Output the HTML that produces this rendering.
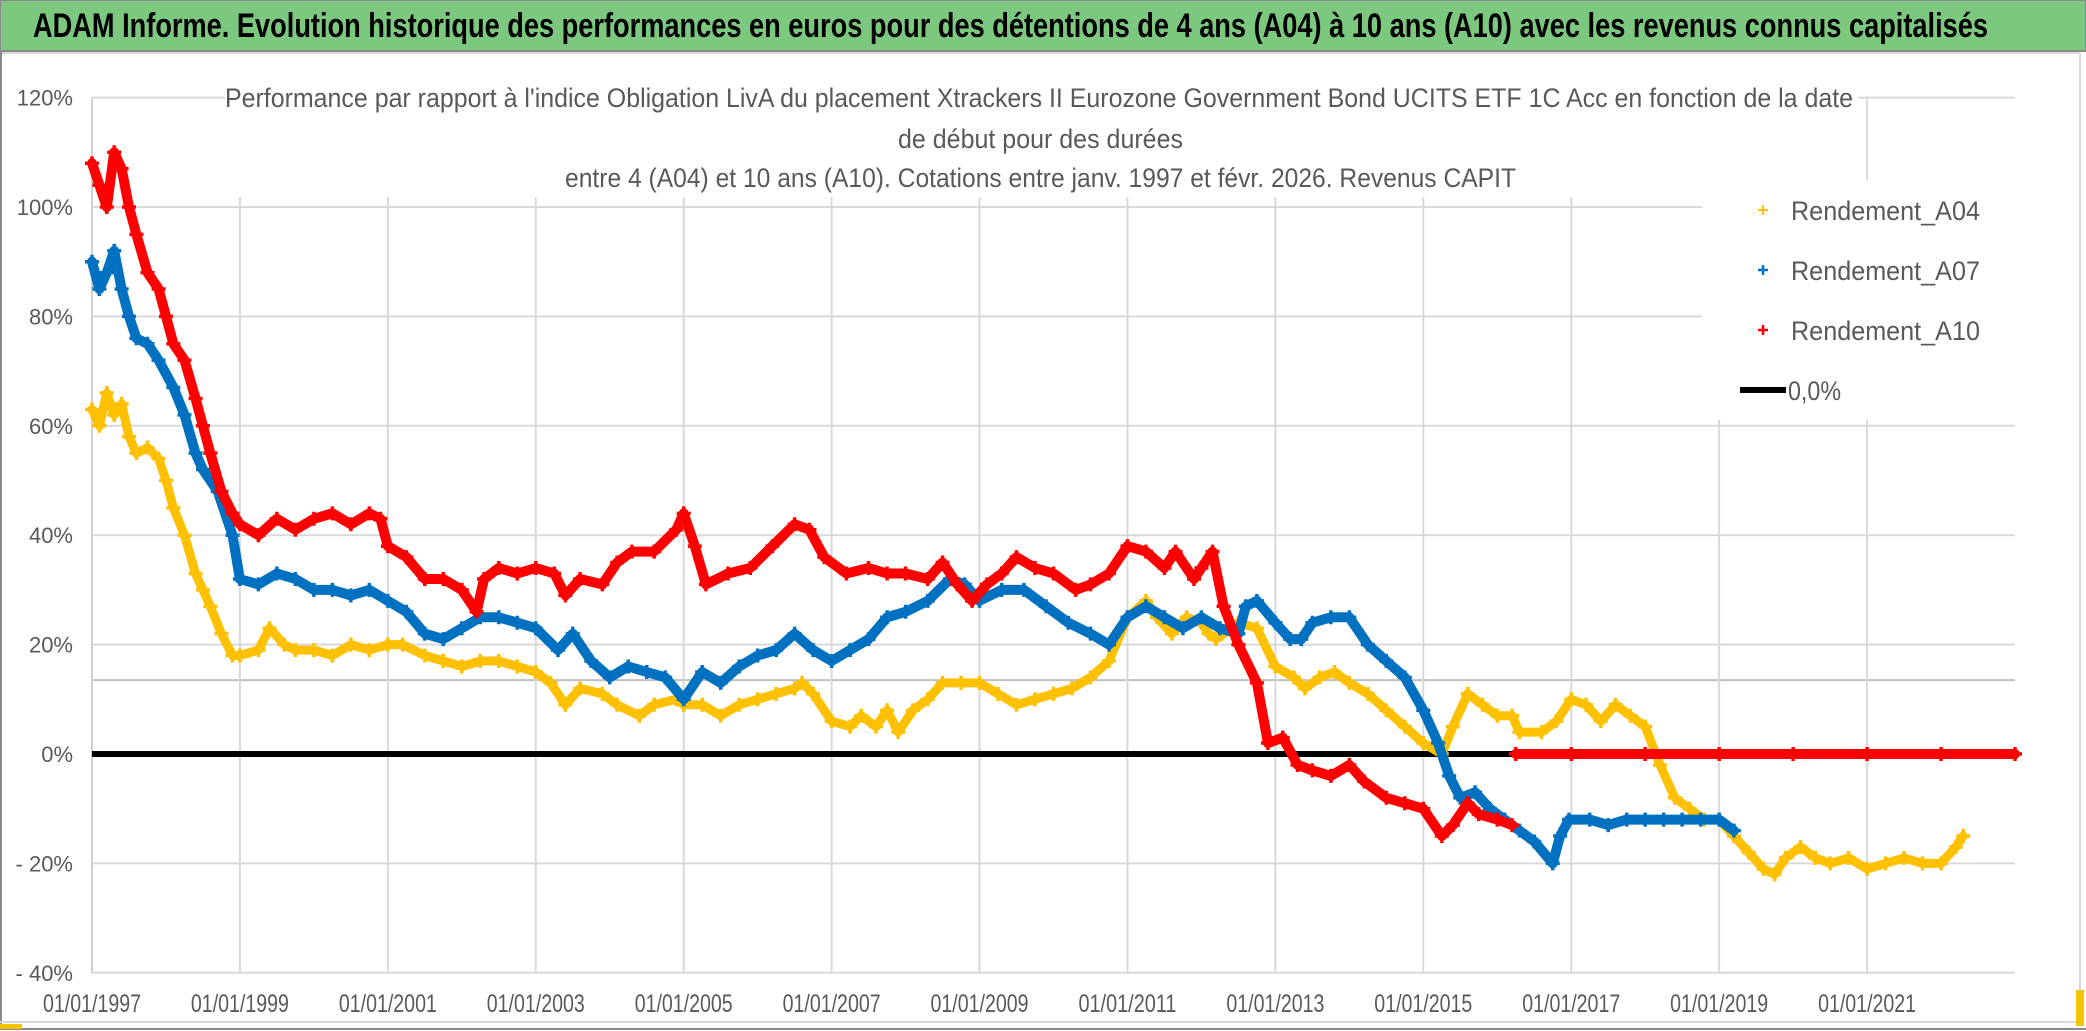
<!DOCTYPE html>
<html><head><meta charset="utf-8"><style>
html,body{margin:0;padding:0;background:#fff;width:2086px;height:1031px;overflow:hidden}
svg{display:block}
text{font-family:"Liberation Sans Narrow","Liberation Sans",sans-serif}
</style></head><body>
<svg id="chart" width="2086" height="1031" viewBox="0 0 2086 1031" xmlns="http://www.w3.org/2000/svg">
<rect x="0" y="0" width="2086" height="1031" fill="#fff"/>
<rect x="0" y="0" width="2086" height="51" fill="#7dc87f" stroke="#8a8a8a" stroke-width="2"/>
<text x="33" y="37" font-size="34" font-weight="bold" fill="#000" textLength="1955" lengthAdjust="spacingAndGlyphs">ADAM Informe. Evolution historique des performances en euros pour des détentions de 4 ans (A04) à 10 ans (A10) avec les revenus connus capitalisés</text>
<line x1="0" y1="53" x2="2080" y2="53" stroke="#d9d9d9" stroke-width="2"/>
<line x1="2080" y1="53" x2="2080" y2="1022" stroke="#d9d9d9" stroke-width="2"/>
<line x1="1" y1="51" x2="1" y2="1030" stroke="#8a8a8a" stroke-width="2"/>
<line x1="0" y1="1022" x2="2080" y2="1022" stroke="#d9d9d9" stroke-width="2"/>
<line x1="0" y1="1029" x2="2086" y2="1029" stroke="#8a8a8a" stroke-width="2"/>
<rect x="0" y="1024" width="22" height="5" fill="#f5c400"/>
<rect x="2076" y="990" width="8" height="36" fill="#f5c400"/>
<g id="grid"></g>
<g id="marks"></g>
<rect x="225" y="72" width="1633" height="125" fill="#fff"/>
<g fill="#595959" font-size="27">
<text x="225" y="107" textLength="1628" lengthAdjust="spacingAndGlyphs">Performance par rapport à l'indice Obligation LivA  du placement Xtrackers II Eurozone Government Bond UCITS ETF 1C Acc en fonction de la date</text>
<text x="898" y="148" textLength="285" lengthAdjust="spacingAndGlyphs">de début pour des durées</text>
<text x="565" y="187" textLength="951" lengthAdjust="spacingAndGlyphs">entre 4 (A04) et 10 ans (A10). Cotations entre janv. 1997 et févr. 2026. Revenus CAPIT</text>
</g>
<rect x="1702" y="180" width="313" height="240" fill="#fff"/>
<g font-size="27" fill="#595959">
<g><path d="M1758 210h10M1763 205v10" stroke="#ffc000" stroke-width="2"/><text x="1791" y="220" textLength="189" lengthAdjust="spacingAndGlyphs">Rendement_A04</text></g>
<g><path d="M1758 270h10M1763 265v10" stroke="#0070c0" stroke-width="2.5"/><text x="1791" y="280" textLength="189" lengthAdjust="spacingAndGlyphs">Rendement_A07</text></g>
<g><path d="M1758 330h10M1763 325v10" stroke="#ff0000" stroke-width="2.5"/><text x="1791" y="340" textLength="189" lengthAdjust="spacingAndGlyphs">Rendement_A10</text></g>
<g><line x1="1740" y1="390" x2="1786" y2="390" stroke="#000" stroke-width="6"/><text x="1788" y="400" textLength="53" lengthAdjust="spacingAndGlyphs">0,0%</text></g>
</g>
</svg>
<script>
const yTicks=[120,100,80,60,40,20,0,-20,-40];
const yTickLabels=["120%","100%","80%","60%","40%","20%","0%","- 20%","- 40%"];
const xTicks=[1997,1999,2001,2003,2005,2007,2009,2011,2013,2015,2017,2019,2021];
const xTickLabels=["01/01/1997","01/01/1999","01/01/2001","01/01/2003","01/01/2005","01/01/2007","01/01/2009","01/01/2011","01/01/2013","01/01/2015","01/01/2017","01/01/2019","01/01/2021"];
const refLine=13.5;
const a04X=[1997.0,1997.1,1997.2,1997.3,1997.4,1997.5,1997.6,1997.75,1997.9,1998.0,1998.1,1998.25,1998.4,1998.5,1998.6,1998.75,1998.9,1999.0,1999.25,1999.4,1999.6,1999.75,2000.0,2000.25,2000.5,2000.75,2001.0,2001.2,2001.5,2001.75,2002.0,2002.25,2002.5,2002.75,2003.0,2003.2,2003.4,2003.6,2003.9,2004.1,2004.4,2004.6,2004.9,2005.0,2005.25,2005.5,2005.75,2006.0,2006.25,2006.5,2006.6,2006.75,2007.0,2007.25,2007.4,2007.6,2007.75,2007.9,2008.1,2008.3,2008.5,2008.75,2009.0,2009.25,2009.5,2009.75,2010.0,2010.25,2010.5,2010.75,2011.0,2011.25,2011.4,2011.6,2011.8,2012.0,2012.1,2012.2,2012.5,2012.75,2013.0,2013.25,2013.4,2013.6,2013.8,2014.0,2014.25,2014.5,2014.75,2015.0,2015.25,2015.4,2015.6,2015.8,2016.0,2016.2,2016.3,2016.6,2016.8,2017.0,2017.2,2017.4,2017.6,2017.8,2018.0,2018.2,2018.4,2018.6,2018.8,2019.0,2019.2,2019.4,2019.6,2019.75,2019.9,2020.1,2020.3,2020.5,2020.75,2021.0,2021.25,2021.5,2021.75,2022.0,2022.2,2022.3];
const a04Y=[63,60,66,62,64,58,55,56,54,50,45,40,33,30,27,22,18,18,19,23,20,19,19,18,20,19,20,20,18,17,16,17,17,16,15,13,9,12,11,9,7,9,10,9,9,7,9,10,11,12,13,11,6,5,7,5,8,4,8,10,13,13,13,11,9,10,11,12,14,17,25,28,25,22,25,24,22,21,24,23,16,14,12,14,15,13,11,8,5,2,0,5,11,9,7,7,4,4,6,10,9,6,9,7,5,-2,-8,-10,-12,-12,-15,-18,-21,-22,-19,-17,-19,-20,-19,-21,-20,-19,-20,-20,-17,-15];
const a07X=[1997.0,1997.1,1997.2,1997.3,1997.4,1997.5,1997.6,1997.75,1997.9,1998.1,1998.25,1998.4,1998.5,1998.7,1998.9,1999.0,1999.25,1999.5,1999.75,2000.0,2000.25,2000.5,2000.75,2001.0,2001.25,2001.5,2001.75,2002.0,2002.25,2002.5,2002.75,2003.0,2003.3,2003.5,2003.75,2004.0,2004.25,2004.5,2004.75,2005.0,2005.25,2005.5,2005.75,2006.0,2006.25,2006.5,2006.75,2007.0,2007.25,2007.5,2007.75,2008.0,2008.3,2008.6,2008.8,2009.0,2009.3,2009.6,2009.9,2010.2,2010.5,2010.75,2011.0,2011.25,2011.5,2011.75,2012.0,2012.25,2012.5,2012.6,2012.75,2013.0,2013.2,2013.35,2013.5,2013.75,2014.0,2014.25,2014.5,2014.75,2015.0,2015.2,2015.35,2015.5,2015.7,2015.9,2016.1,2016.3,2016.5,2016.75,2016.85,2016.97,2017.25,2017.5,2017.75,2018.0,2018.25,2018.5,2018.75,2019.0,2019.2];
const a07Y=[90,85,88,92,85,80,76,75,72,67,62,55,52,48,40,32,31,33,32,30,30,29,30,28,26,22,21,23,25,25,24,23,19,22,17,14,16,15,14,10,15,13,16,18,19,22,19,17,19,21,25,26,28,32,31,28,30,30,27,24,22,20,25,27,25,23,25,23,22,27,28,24,21,21,24,25,25,20,17,14,8,2,-4,-8,-7,-10,-12,-14,-16,-20,-15,-12,-12,-13,-12,-12,-12,-12,-12,-12,-14];
const a10X=[1997.0,1997.1,1997.2,1997.3,1997.4,1997.5,1997.6,1997.75,1997.9,1998.0,1998.1,1998.25,1998.4,1998.5,1998.6,1998.75,1998.9,1999.0,1999.25,1999.5,1999.75,2000.0,2000.25,2000.5,2000.75,2000.9,2001.0,2001.25,2001.5,2001.75,2002.0,2002.2,2002.3,2002.5,2002.75,2003.0,2003.25,2003.4,2003.6,2003.9,2004.1,2004.3,2004.6,2004.9,2005.0,2005.15,2005.3,2005.6,2005.9,2006.2,2006.5,2006.7,2006.9,2007.2,2007.5,2007.75,2008.0,2008.3,2008.5,2008.7,2008.9,2009.1,2009.3,2009.5,2009.75,2010.0,2010.3,2010.5,2010.75,2011.0,2011.25,2011.5,2011.65,2011.9,2012.0,2012.15,2012.3,2012.5,2012.75,2012.9,2013.1,2013.3,2013.5,2013.75,2014.0,2014.2,2014.5,2014.75,2015.0,2015.25,2015.4,2015.6,2015.75,2016.0,2016.2];
const a10Y=[108,104,100,110,107,100,95,88,85,80,75,72,65,60,55,48,44,42,40,43,41,43,44,42,44,43,38,36,32,32,30,26,32,34,33,34,33,29,32,31,35,37,37,41,44,38,31,33,34,38,42,41,36,33,34,33,33,32,35,31,28,31,33,36,34,33,30,31,33,38,37,34,37,32,34,37,27,20,13,2,3,-2,-3,-4,-2,-5,-8,-9,-10,-15,-13,-9,-11,-12,-13];
const a10ZeroX=[2016.25,2017,2018,2019,2020,2021,2022,2023];
const a10ZeroY=[0,0,0,0,0,0,0,0];
const zeroX=[1997,2023];
const zeroY=[0,0];

const NS="http://www.w3.org/2000/svg";
const X0=92,X1=2015,Y0=754,PXPCT=5.47;
function xs(t){return X0+(t-1997)*(X1-X0)/26;}
function ys(v){return Y0-v*PXPCT;}
function mk(tag,attrs,parent){const e=document.createElementNS(NS,tag);for(const k in attrs)e.setAttribute(k,attrs[k]);parent.appendChild(e);return e;}
const grid=document.getElementById('grid'),marks=document.getElementById('marks'),svg=document.getElementById('chart');
yTicks.forEach((v,i)=>{
  const l=mk('line',{x1:X0,x2:X1,y1:ys(v),y2:ys(v),stroke:'#d9d9d9','stroke-width':2},grid);
  
  
  const t=mk('text',{x:73,y:ys(v)+8,'text-anchor':'end','font-size':22,fill:'#595959'},svg);
  t.textContent=yTickLabels[i];
  
  
});
const rl=mk('line',{x1:X0,x2:X1,y1:ys(refLine),y2:ys(refLine),stroke:'#c0c0c0','stroke-width':2},grid);


xTicks.forEach((t,i)=>{
  const l=mk('line',{x1:xs(t),x2:xs(t),y1:ys(120),y2:ys(-40),stroke:'#d9d9d9','stroke-width':2},grid);
  
  
  const tx=mk('text',{x:xs(t),y:1012,'text-anchor':'middle','font-size':25,fill:'#595959',textLength:98,lengthAdjust:'spacingAndGlyphs'},svg);
  tx.textContent=xTickLabels[i];
  
  
});
const ax=mk('line',{x1:X0,x2:X0,y1:ys(120),y2:ys(-40),stroke:'#d0d0d0','stroke-width':2},grid);


const zl=mk('line',{x1:xs(zeroX[0]),x2:xs(zeroX[1]),y1:ys(zeroY[0]),y2:ys(zeroY[1]),stroke:'#000','stroke-width':6},marks);


function series(xa,ya,color,name,sw){
  const g=mk('g',{},marks);
  
  
  let d='';
  xa.forEach((t,i)=>{d+=(i?'L':'M')+xs(t).toFixed(1)+' '+ys(ya[i]).toFixed(1);});
  mk('path',{d:d,fill:'none',stroke:color,'stroke-width':sw,'stroke-linejoin':'round','stroke-linecap':'round'},g);
  let m='';
  xa.forEach((t,i)=>{const x=xs(t),y=ys(ya[i]);m+='M'+(x-7)+' '+y+'h14M'+x+' '+(y-7)+'v14';});
  mk('path',{d:m,fill:'none',stroke:color,'stroke-width':3.5},g);
}
series(a04X,a04Y,'#ffc000','series-a04',9);
series(a07X,a07Y,'#0070c0','series-a07',10);
series(a10X,a10Y,'#ff0000','series-a10',10);
series(a10ZeroX,a10ZeroY,'#ff0000','series-a10-zero',10);
</script>
</body></html>
